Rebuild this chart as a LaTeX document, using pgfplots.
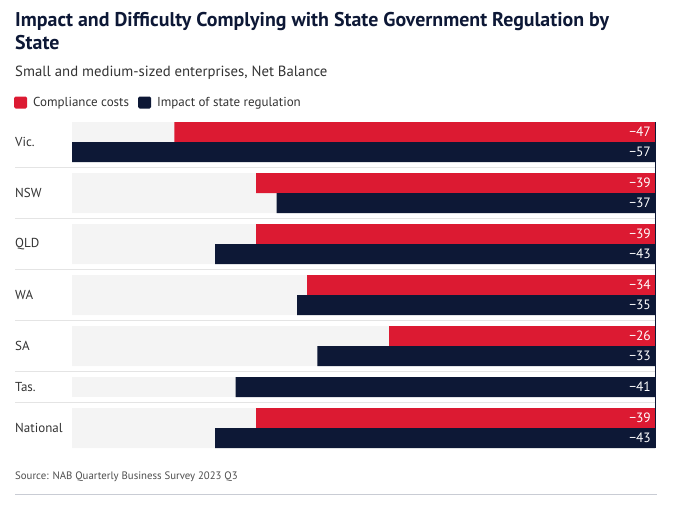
\documentclass[border=0pt]{standalone}
\usepackage{fontspec}
\setmainfont{PT Sans}
\usepackage{pgfplots}
\usepackage{pgfplotstable}
\pgfplotsset{compat=1.18}
\definecolor{cred}{HTML}{DC1A32}
\definecolor{cnavy}{HTML}{0D1836}
\definecolor{cband}{HTML}{F4F4F4}
\definecolor{csep}{HTML}{E4E4E4}
\definecolor{ctitle}{HTML}{0D1836}
\definecolor{ctext}{HTML}{333333}
\definecolor{csrc}{HTML}{4D4D4D}
\definecolor{cline}{HTML}{C9CCD4}

% y positions are minus the pixel row of each bar centre
\pgfplotstableread{
y val
-132 -47
-183 -39
-234 -39
-285 -34
-336 -26
-418 -39
}\compliance
\pgfplotstableread{
y val
-152 -57
-203 -37
-254 -43
-305 -35
-356 -33
-387 -41
-438 -43
}\impact

\begin{document}
\begin{tikzpicture}
\useasboundingbox (0,0) rectangle (678bp,-509bp);
\node[anchor=base west, inner sep=0pt, text=ctitle, font=\fontsize{19.9bp}{24bp}\selectfont\bfseries] at (15bp,-26bp) {Impact and Difficulty Complying with State Government Regulation by};
\node[anchor=base west, inner sep=0pt, text=ctitle, font=\fontsize{19.9bp}{24bp}\selectfont\bfseries] at (15bp,-49bp) {State};
\node[anchor=base west, inner sep=0pt, text=ctext, font=\fontsize{14.75bp}{18bp}\selectfont] at (15bp,-76bp) {Small and medium-sized enterprises, Net Balance};

\begin{axis}[
  at={(72bp,-448bp)}, anchor=south west,
  scale only axis, width=583bp, height=326bp,
  xmin=-57, xmax=0, ymin=-448, ymax=-122,
  axis line style={draw=none},
  xtick=\empty,
  ytick={-428,-387,-346,-295,-244,-193,-142},
  yticklabels={National,Tas.,SA,WA,QLD,NSW,Vic.},
  major tick length=0pt,
  yticklabel style={anchor=west, inner sep=0pt, xshift=-57bp, font=\fontsize{13bp}{15bp}\selectfont, text=ctext},
  clip=false,
  legend columns=2,
  legend style={at={(-0.0995,1.0598)}, anchor=west, draw=none, fill=none, inner sep=0pt,
    font=\fontsize{13bp}{15bp}\selectfont, text=ctext,
    /tikz/every even column/.append style={column sep=9bp},
    nodes={inner sep=0pt, anchor=west, text=ctext}},
  legend image code/.code={\path[#1, draw=none, rounded corners=1.5bp] (0bp,-6bp) rectangle (13bp,6bp); \path (19bp,0bp);},
]
\addplot[xbar, bar shift=0pt, bar width=40, fill=cband, draw=none, forget plot]
  coordinates {(-57,-142) (-57,-193) (-57,-244) (-57,-295) (-57,-346) (-57,-428)};
\addplot[xbar, bar shift=0pt, bar width=20, fill=cband, draw=none, forget plot]
  coordinates {(-57,-387)};
\addplot[xbar, bar shift=0pt, bar width=20, fill=cred, draw=none] table[x=val,y=y]{\compliance};
\addlegendentry{Compliance costs}
\addplot[xbar, bar shift=0pt, bar width=20, fill=cnavy, draw=none] table[x=val,y=y]{\impact};
\addlegendentry{Impact of state regulation}
\addplot[forget plot, draw=none, nodes near coords, point meta=explicit symbolic,
  nodes near coords style={anchor=east, inner sep=0pt, xshift=-4bp, text=white, font=\fontsize{13.5bp}{15bp}\selectfont}]
  table[x=x, y=y, meta=lab] {
x y lab
0 -132 −47
0 -152 −57
0 -183 −39
0 -203 −37
0 -234 −39
0 -254 −43
0 -285 −34
0 -305 −35
0 -336 −26
0 -356 −33
0 -387 −41
0 -418 −39
0 -438 −43
};
\draw[cnavy, line width=1bp] (axis cs:0,-122) -- (axis cs:0,-448);
\end{axis}

\foreach \yy in {167.5,218.5,269.5,320.5,371.5,402.5}
  \draw[csep, line width=1.5bp] (15bp,-\yy bp) -- (655bp,-\yy bp);

\node[anchor=base west, inner sep=0pt, text=csrc, font=\fontsize{10.8bp}{13bp}\selectfont] at (15bp,-479bp) {Source: NAB Quarterly Business Survey 2023 Q3};
\draw[cline, line width=1bp] (15bp,-494bp) -- (657bp,-494bp);
\end{tikzpicture}
\end{document}
